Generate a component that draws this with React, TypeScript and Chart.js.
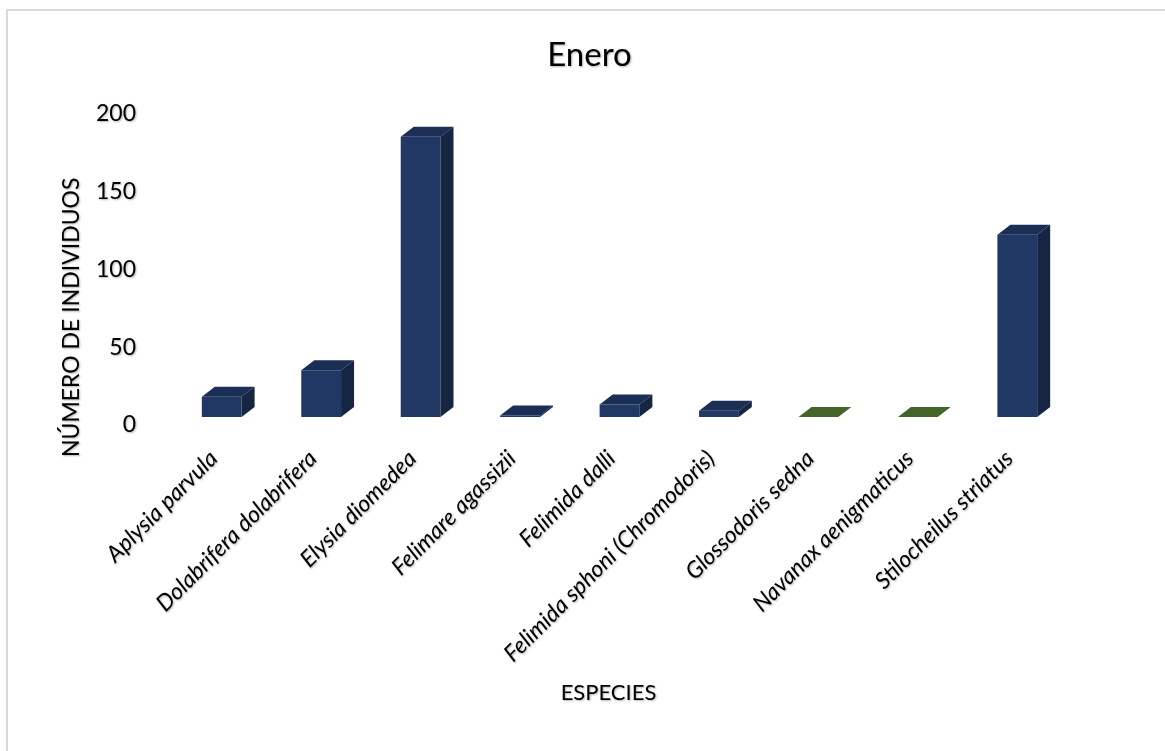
import React, { useEffect, useRef } from "react";
import { Chart, registerables } from "chart.js";

Chart.register(...registerables);

const categories = [
  "Aplysia parvula",
  "Dolabrifera dolabrifera",
  "Elysia diomedea",
  "Felimare agassizii",
  "Felimida dalli",
  "Felimida sphoni (Chromodoris)",
  "Glossodoris sedna",
  "Navanax aenigmaticus",
  "Stilocheilus striatus",
];
const individuos = [13, 30, 180, 1, 8, 4, 0, 0, 117];
const yTickStep = 50;
const yMax = 200;
const chartTitle = "Enero";
const yTitle = "NÚMERO DE INDIVIDUOS";
const xTitle = "ESPECIES";

const BLUE = { front: "#213865", top: "#1b2e55", side: "#162542" };
const GREEN = { front: "#44652a", top: "#44652a", side: "#3a5724" };
const DEPTH_X = 13;
const DEPTH_Y = 10;

const pal = (v: number) => (v === 0 ? GREEN : BLUE);

const SHADOW = "rgba(0,0,0,0.30)";

const textShadowPlugin = {
  id: "textShadow",
  beforeDraw(chart: any) {
    const ctx = chart.ctx;
    ctx.shadowColor = SHADOW;
    ctx.shadowOffsetX = 1;
    ctx.shadowOffsetY = 1;
    ctx.shadowBlur = 2;
  },
  beforeDatasetsDraw(chart: any) {
    const ctx = chart.ctx;
    ctx.shadowColor = "rgba(0,0,0,0)";
    ctx.shadowOffsetX = 0;
    ctx.shadowOffsetY = 0;
    ctx.shadowBlur = 0;
  },
};

const bar3dPlugin = {
  id: "bar3d",
  afterDatasetsDraw(chart: any) {
    const ctx = chart.ctx;
    const meta = chart.getDatasetMeta(0);
    meta.data.forEach((el: any, i: number) => {
      const { x, y, base, width } = el.getProps(["x", "y", "base", "width"], true);
      const l = x - width / 2;
      const r = x + width / 2;
      const c = pal(individuos[i]);
      ctx.save();
      ctx.fillStyle = c.top;
      ctx.beginPath();
      ctx.moveTo(l, y);
      ctx.lineTo(l + DEPTH_X, y - DEPTH_Y);
      ctx.lineTo(r + DEPTH_X, y - DEPTH_Y);
      ctx.lineTo(r, y);
      ctx.closePath();
      ctx.fill();
      if (base - y > 0.5) {
        ctx.fillStyle = c.side;
        ctx.beginPath();
        ctx.moveTo(r, y);
        ctx.lineTo(r + DEPTH_X, y - DEPTH_Y);
        ctx.lineTo(r + DEPTH_X, base - DEPTH_Y);
        ctx.lineTo(r, base);
        ctx.closePath();
        ctx.fill();
      }
      ctx.restore();
    });
  },
};

const axisTitlesPlugin = {
  id: "axisTitlesText",
  afterDraw(chart: any) {
    const ctx = chart.ctx;
    const { top, bottom, left, right } = chart.chartArea;
    ctx.save();
    ctx.shadowColor = SHADOW;
    ctx.shadowOffsetX = 1;
    ctx.shadowOffsetY = 1;
    ctx.shadowBlur = 2;
    ctx.fillStyle = "#000";
    ctx.textAlign = "center";
    ctx.textBaseline = "middle";
    ctx.font = "22px Lato";
    ctx.fillText(xTitle, (left + right) / 2 - 11, chart.height - 58);
    ctx.translate(72, (top + bottom) / 2 + 56);
    ctx.rotate(-Math.PI / 2);
    ctx.font = "23px Lato";
    ctx.fillText(yTitle, 0, 0);
    ctx.restore();
  },
};

export default function App() {
  const ref = useRef<HTMLCanvasElement | null>(null);

  useEffect(() => {
    if (!ref.current) return;
    const chart = new Chart(ref.current, {
      type: "bar",
      data: {
        labels: categories,
        datasets: [
          {
            label: xTitle,
            data: individuos,
            backgroundColor: individuos.map((v) => pal(v).front),
            borderWidth: 0,
            categoryPercentage: 1,
            barPercentage: 0.4,
          },
        ],
      },
      options: {
        responsive: false,
        animation: false,
        layout: { padding: { left: 14, right: 0, top: 0, bottom: 0 } },
        plugins: {
          legend: { display: false },
          tooltip: { enabled: false },
          title: {
            display: true,
            text: chartTitle,
            color: "#000",
            font: { family: "Lato", size: 33, weight: "normal" },
            padding: { top: 36, bottom: 30 },
          },
        },
        scales: {
          x: {
            grid: { display: false, drawTicks: false },
            border: { display: false },
            ticks: {
              autoSkip: false,
              maxRotation: 45,
              minRotation: 45,
              padding: 28,
              labelOffset: -8,
              color: "#000",
              font: { family: "Lato", size: 23, style: "italic" },
            },
            afterFit: (s: any) => {
              s.height = 334;
            },
          },
          y: {
            min: 0,
            max: yMax,
            grid: { display: false, drawTicks: false },
            border: { display: false },
            ticks: {
              stepSize: yTickStep,
              padding: 36,
              labelOffset: 8,
              color: "#000",
              font: { family: "Lato", size: 23 },
            },
            afterFit: (s: any) => {
              s.width = 158;
            },
          },
          yRight: {
            position: "right",
            display: true,
            grid: { display: false, drawTicks: false },
            border: { display: false },
            ticks: { display: false },
            afterFit: (s: any) => {
              s.width = 98;
            },
          },
        },
      },
      plugins: [textShadowPlugin, bar3dPlugin, axisTitlesPlugin],
    });
    return () => chart.destroy();
  }, []);

  return (
    <div style={{ position: "fixed", left: 0, top: 0, width: 1165, height: 751, overflow: "hidden", background: "#fff" }}>
      <div
        style={{
          position: "absolute",
          left: 6,
          top: 9,
          width: 1200,
          height: 800,
          borderLeft: "2px solid #d9d9d9",
          borderTop: "2px solid #d9d9d9",
        }}
      />
      <canvas ref={ref} width={1165} height={751} style={{ position: "absolute", left: 0, top: 0 }} />
    </div>
  );
}
